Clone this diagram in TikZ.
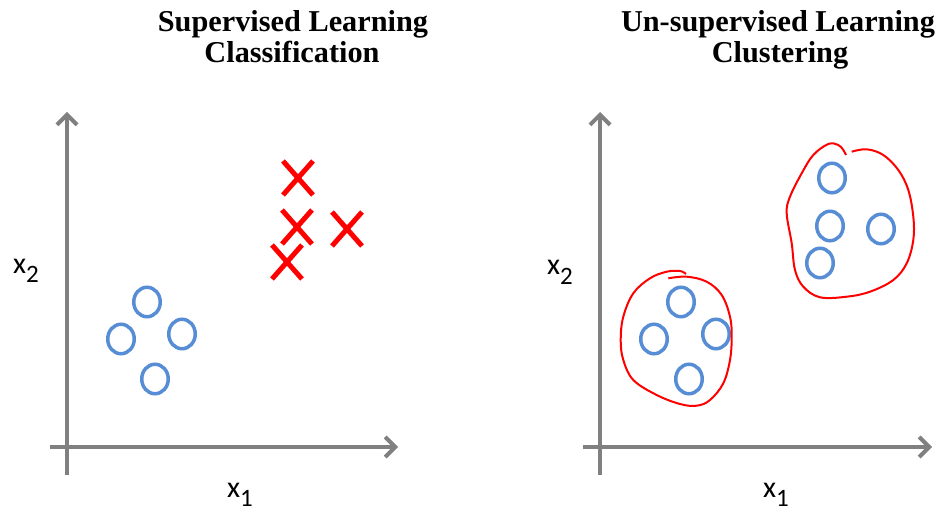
\documentclass[tikz,border=0pt]{standalone}
\usepackage{fontspec}
\setmainfont{Liberation Serif}
\newfontfamily\lblfont{Carlito}
\usetikzlibrary{arrows.meta,shapes.geometric,shapes.misc}
\definecolor{axisgray}{RGB}{128,128,128}
\definecolor{ptblue}{RGB}{86,141,212}
\definecolor{xred}{RGB}{255,0,0}
\begin{document}
\begin{tikzpicture}[x=1pt,y=-1pt,
  axisline/.style={draw=axisgray, line width=4pt, -{Straight Barb[length=10pt,width=20pt]}},
  ttl/.style={font=\fontsize{30.3}{31}\selectfont\bfseries, anchor=base, inner sep=0pt},
  lbl/.style={font=\lblfont\fontsize{30}{30}\selectfont, anchor=base west, inner sep=0pt},
  blob/.style={ellipse, draw=ptblue, line width=3.5pt, minimum width=26.5pt, minimum height=29.5pt, inner sep=0pt},
  xmark/.style={cross out, draw=xred, line width=5pt, minimum width=25pt, minimum height=29pt, inner sep=0pt},
  clusterline/.style={draw=xred, line width=2pt, line join=round}]
\useasboundingbox (0,0) rectangle (948,513);

% titles
\node[ttl] (t1a) at (293,32) {Supervised Learning};
\node[ttl] (t1b) at (292,63) {Classification};
\node[ttl] (t2a) at (778,32) {Un-supervised Learning};
\node[ttl] (t2b) at (780,63) {Clustering};

% left axes
\coordinate (lvb) at (67,475);
\coordinate (lvt) at (67,112);
\coordinate (lhl) at (50,447);
\coordinate (lhr) at (398,447);
\draw[axisline] (lvb) -- (lvt);
\draw[axisline] (lhl) -- (lhr);

% right axes
\coordinate (rvb) at (600,475);
\coordinate (rvt) at (600,112);
\coordinate (rhl) at (583,447);
\coordinate (rhr) at (932,447);
\draw[axisline] (rvb) -- (rvt);
\draw[axisline] (rhl) -- (rhr);

% axis labels
\node[lbl] (lx2) at (13,273) {x\raisebox{-9.5pt}{\fontsize{25}{25}\selectfont 2}};
\node[lbl] (lx1) at (227,497) {x\raisebox{-9.5pt}{\fontsize{25}{25}\selectfont 1}};
\node[lbl] (rx2) at (547,275) {x\raisebox{-9.5pt}{\fontsize{25}{25}\selectfont 2}};
\node[lbl] (rx1) at (763,497) {x\raisebox{-9.5pt}{\fontsize{25}{25}\selectfont 1}};

% left points
\node[blob] (la1) at (147,302) {};
\node[blob] (la2) at (121,339) {};
\node[blob] (la3) at (182,334) {};
\node[blob] (la4) at (155,379) {};
\node[xmark] (lc1) at (298,178) {};
\node[xmark] (lc2) at (297,227) {};
\node[xmark] (lc3) at (347,229) {};
\node[xmark] (lc4) at (287,262) {};

% right points
\node[blob] (ra1) at (681,302) {};
\node[blob] (ra2) at (654,339) {};
\node[blob] (ra3) at (716,334) {};
\node[blob] (ra4) at (689,379) {};
\node[blob] (rb1) at (832,178) {};
\node[blob] (rb2) at (830,226) {};
\node[blob] (rb3) at (881,229) {};
\node[blob] (rb4) at (820,263) {};

% cluster outlines
\draw[clusterline] plot[smooth, tension=0.6] coordinates {
 (668.3,278.3) (686.7,276.7) (706.7,281.7) (721.7,295) (730,316.7) (731.7,336.7)
 (730,360) (723.3,383.3) (710,400) (696.7,405.7) (680,404) (656.7,395) (633.3,380)
 (623.3,360) (620.7,340) (623.3,316.7) (633.3,293.3) (650,278.3) (666.7,271.7)
 (680,271) (686,274)};
\draw[clusterline] plot[smooth, tension=0.6] coordinates {
 (851.7,151.7) (866.7,149.3) (883.3,155) (898.3,170) (908.3,190) (913.3,216.7)
 (913.3,240) (906.7,263.3) (893.3,280) (870,291.7) (846.7,296.7) (820,297.3)
 (803.3,286.7) (795,270) (791.7,243.3) (786.7,213.3) (790,196.7) (801.7,173.3)
 (813.3,155) (828.3,144) (838.3,145) (843.3,150) (846,155)};
\end{tikzpicture}
\end{document}
